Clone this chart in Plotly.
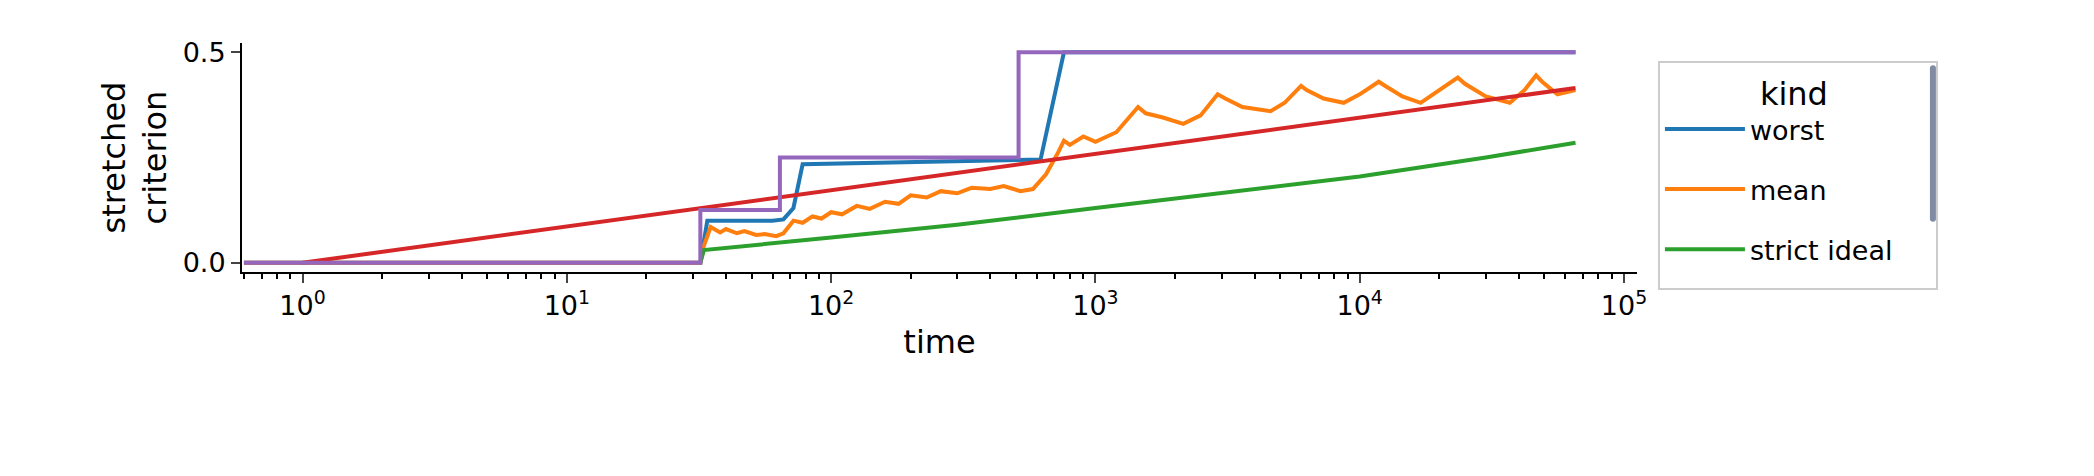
import numpy as np
import plotly.graph_objects as go

# data (time, value)
ub_t = [0.6, 32, 32, 64, 64, 512, 512, 65536]
ub_v = [0, 0, 0.125, 0.125, 0.25, 0.25, 0.5, 0.5]

worst_t = [0.6, 32, 34, 60, 66, 72, 78, 300, 600, 620, 760, 65536]
worst_v = [0, 0, 0.1, 0.1, 0.103, 0.13, 0.234, 0.24, 0.245, 0.245, 0.5, 0.5]

mean_t = [0.6, 32, 33, 35, 38, 40, 44, 47, 52, 56, 62, 66, 72, 78, 85, 92, 100, 110,
          125, 140, 160, 180, 200, 230, 260, 300, 340, 400, 450, 520, 580, 650, 720,
          760, 800, 900, 1000, 1200, 1450, 1550, 1800, 2150, 2500, 2900, 3100, 3600,
          4600, 5200, 6000, 6300, 7300, 8700, 10000, 11800, 12500, 14500, 17000,
          20000, 23500, 25000, 30000, 37000, 42000, 46500, 49000, 56000, 65536]
mean_v = [0, 0, 0.04, 0.085, 0.072, 0.08, 0.07, 0.075, 0.066, 0.068, 0.063, 0.07, 0.1,
          0.095, 0.11, 0.105, 0.12, 0.115, 0.135, 0.128, 0.145, 0.14, 0.16, 0.155,
          0.17, 0.165, 0.178, 0.175, 0.182, 0.17, 0.175, 0.21, 0.26, 0.29, 0.28, 0.3,
          0.287, 0.31, 0.37, 0.355, 0.345, 0.33, 0.35, 0.4, 0.39, 0.37, 0.36, 0.38,
          0.42, 0.41, 0.39, 0.38, 0.4, 0.43, 0.42, 0.395, 0.38, 0.41, 0.44, 0.425,
          0.395, 0.38, 0.41, 0.445, 0.43, 0.4, 0.41]

strict_t = [32, 33, 100, 300, 1000, 3000, 10000, 30000, 65536]
strict_v = [0, 0.03, 0.06, 0.09, 0.13, 0.165, 0.205, 0.25, 0.285]

naive_t = [1, 10, 100, 1000, 10000, 65536]
naive_v = [0, 0.086, 0.173, 0.259, 0.346, 0.415]

series = [
    ("worst", worst_t, worst_v, "#1f77b4"),
    ("mean", mean_t, mean_v, "#ff7f0e"),
    ("strict ideal", strict_t, strict_v, "#2ca02c"),
    ("naive ideal", naive_t, naive_v, "#d62728"),
    ("upper bound", ub_t, ub_v, "#9467bd"),
]

fig = go.Figure()
for name, t, v, c in series:
    fig.add_trace(go.Scatter(x=t, y=v, name=name, mode="lines", legendgroup=name,
                             line=dict(color=c, width=4)))

minor = [m * 10 ** e for e in range(-1, 5) for m in range(2, 10)]
minor = [m for m in minor if 0.58 < m < 1.1e5]

fig.update_layout(
    width=2094, height=476,
    paper_bgcolor="white", plot_bgcolor="white",
    font=dict(family="DejaVu Sans", size=27, color="black"),
    margin=dict(l=234, r=465, t=35, b=212),
    xaxis=dict(type="log", range=[np.log10(0.59), np.log10(1.12e5)],
               tickvals=[1, 10, 100, 1000, 10000, 100000],
               ticktext=["10<sup>%d</sup>" % i for i in range(6)],
               ticks="outside", ticklen=9, tickwidth=2, showgrid=False,
               showline=True, linecolor="black", linewidth=2,
               minor=dict(tickvals=minor, ticks="outside", ticklen=5,
                          tickwidth=1.5, tickcolor="black", showgrid=False),
               title=dict(text="time", standoff=10), zeroline=False),
    yaxis=dict(range=[-0.022, 0.522], tickvals=[0, 0.5], ticktext=["0.0", "0.5"],
               ticks="outside", ticklen=9, tickwidth=2, showgrid=False,
               showline=True, linecolor="black", linewidth=2, zeroline=False,
               title=dict(text="stretched<br>criterion", standoff=6)),
    legend=dict(x=1.015, xanchor="left", y=0.92, yanchor="top",
                title=dict(text="kind", side="top center"),
                bordercolor="#cccccc", borderwidth=2,
                font=dict(size=27), tracegroupgap=22, itemwidth=80),
)

fig.write_html("out.html")
